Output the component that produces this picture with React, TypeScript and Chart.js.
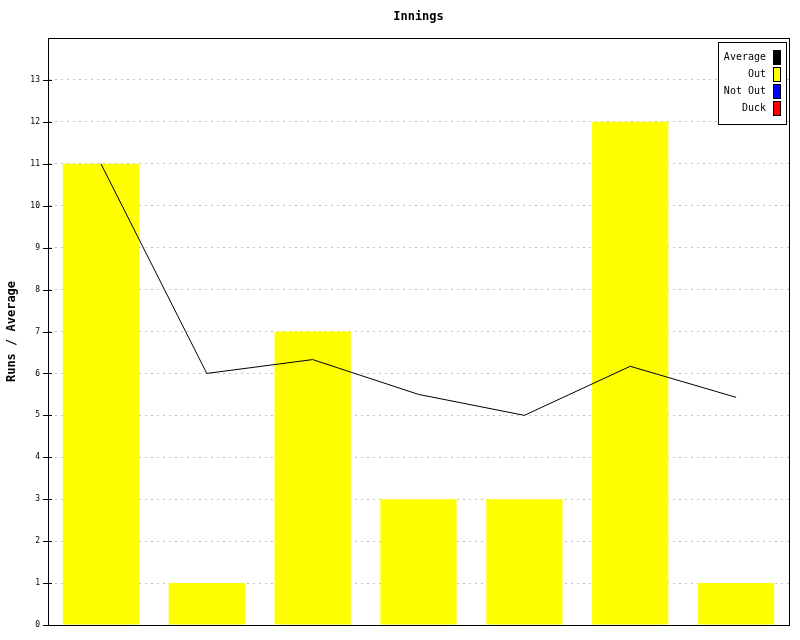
import React, { useEffect, useRef } from "react";
import { Chart, registerables } from "chart.js";

Chart.register(...registerables);

const categories = ["1", "2", "3", "4", "5", "6", "7"];
const outRuns = [11, 1, 7, 3, 3, 12, 1];
const notOutRuns = [0, 0, 0, 0, 0, 0, 0];
const duckRuns = [0, 0, 0, 0, 0, 0, 0];
const averages = [11, 6, 6.33, 5.5, 5, 6.17, 5.43];
const yTicks = [0, 1, 2, 3, 4, 5, 6, 7, 8, 9, 10, 11, 12, 13];
const legendLabels = ["Average", "Out", "Not Out", "Duck"];
const legendColors = ["#000000", "#ffff00", "#0000ff", "#ff0000"];

const MONO = "'DejaVu Sans Mono', 'Liberation Mono', monospace";

const framePlugin = {
  id: "frameAndLegend",
  afterDraw(chart: any) {
    const { ctx, chartArea } = chart;
    const yScale = chart.scales.y;
    ctx.save();
    // frame
    ctx.strokeStyle = "#000";
    ctx.lineWidth = 1;
    ctx.setLineDash([]);
    const L = Math.round(chartArea.left);
    ctx.strokeRect(
      L + 0.5,
      Math.round(chartArea.top) + 0.5,
      Math.round(chartArea.right - chartArea.left),
      Math.round(chartArea.bottom - chartArea.top)
    );
    // tick marks
    ctx.beginPath();
    yScale.ticks.forEach((t: any) => {
      const py = Math.round(yScale.getPixelForValue(t.value)) + 0.5;
      ctx.moveTo(L - 5, py);
      ctx.lineTo(L + 4, py);
    });
    ctx.stroke();
    // title
    ctx.fillStyle = "#000";
    ctx.font = `bold 12px ${MONO}`;
    ctx.textAlign = "center";
    ctx.textBaseline = "middle";
    ctx.fillText("Innings", (chartArea.left + chartArea.right) / 2, 17);
    // legend
    const bx = Math.round(chartArea.right) - 71;
    const by = Math.round(chartArea.top) + 4;
    ctx.fillStyle = "#fff";
    ctx.fillRect(bx, by, 68, 82);
    ctx.strokeStyle = "#000";
    ctx.strokeRect(bx + 0.5, by + 0.5, 68, 82);
    ctx.font = `10px ${MONO}`;
    ctx.textAlign = "right";
    legendLabels.forEach((lab, i) => {
      const cy = by + 15 + i * 17;
      ctx.fillStyle = "#000";
      ctx.fillText(lab, bx + 48, cy);
      ctx.fillStyle = legendColors[i];
      ctx.fillRect(bx + 55, cy - 7, 7, 14);
      ctx.strokeStyle = "#000";
      ctx.strokeRect(bx + 55.5, cy - 6.5, 7, 14);
    });
    ctx.restore();
  },
};

export default function App() {
  const ref = useRef<HTMLCanvasElement>(null);
  useEffect(() => {
    if (!ref.current) return;
    const chart = new Chart(ref.current, {
      type: "bar",
      data: {
        labels: categories,
        datasets: [
          {
            type: "line",
            label: legendLabels[0],
            data: averages,
            borderColor: legendColors[0],
            backgroundColor: legendColors[0],
            borderWidth: 1,
            pointRadius: 0,
            tension: 0,
            order: 0,
          } as any,
          {
            label: legendLabels[1],
            data: outRuns,
            backgroundColor: legendColors[1],
            borderWidth: 0,
            order: 1,
            categoryPercentage: 0.72,
            barPercentage: 1,
          },
          {
            label: legendLabels[2],
            data: notOutRuns,
            backgroundColor: legendColors[2],
            borderWidth: 0,
            order: 2,
            categoryPercentage: 0.72,
            barPercentage: 1,
          },
          {
            label: legendLabels[3],
            data: duckRuns,
            backgroundColor: legendColors[3],
            borderWidth: 0,
            order: 3,
            categoryPercentage: 0.72,
            barPercentage: 1,
          },
        ],
      },
      options: {
        responsive: false,
        animation: false,
        layout: { padding: { top: 38, right: 11, bottom: 15, left: 0 } },
        plugins: {
          legend: { display: false },
          title: { display: false },
          tooltip: { enabled: false },
        },
        scales: {
          x: {
            display: false,
            stacked: true,
            offset: true,
          },
          y: {
            min: 0,
            max: 14,
            stacked: false,
            afterFit: (s: any) => {
              s.width = 48;
            },
            afterBuildTicks: (s: any) => {
              s.ticks = yTicks.map((v) => ({ value: v }));
            },
            ticks: {
              stepSize: 1,
              color: "#000",
              font: { family: MONO, size: 8 },
              padding: 8,
            },
            grid: {
              color: "#c0c0c0",
              lineWidth: 1,
              drawTicks: false,
            },
            border: { display: true, color: "#000", dash: [2, 4] },
            title: {
              display: true,
              text: "Runs / Average",
              color: "#000",
              font: { family: MONO, size: 12, weight: "bold" },
              padding: { top: 5, bottom: 0 },
            },
          },
        },
      },
      plugins: [framePlugin],
    });
    return () => chart.destroy();
  }, []);
  return (
    <div style={{ position: "fixed", left: 0, top: 0, width: 800, height: 640, background: "#fff" }}>
      <canvas ref={ref} width={800} height={640} />
    </div>
  );
}
